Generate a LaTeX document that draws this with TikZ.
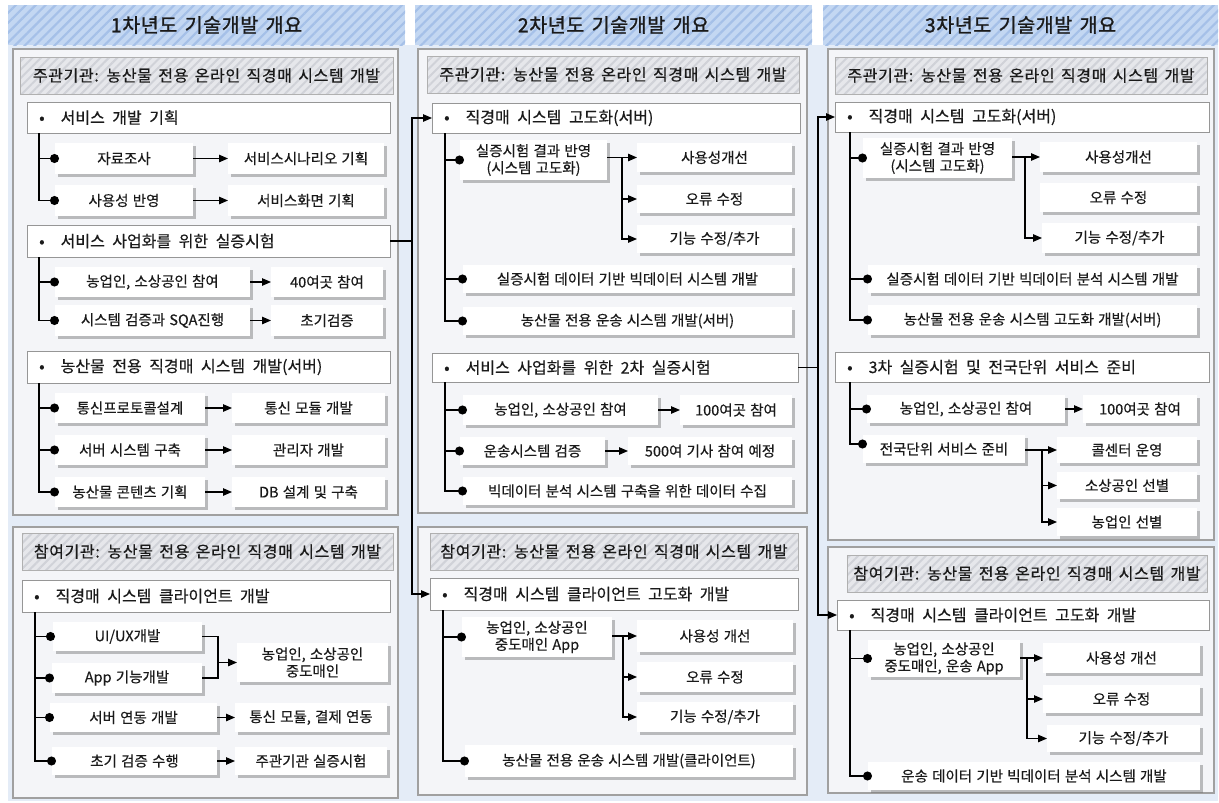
\documentclass[tikz,border=0pt]{standalone}
\usepackage{fontspec}
\setmainfont{Noto Sans CJK KR}[WordSpace=1.3,FakeBold=0.35]
\newfontfamily\titlefont{Noto Sans CJK KR}[WordSpace=1.5,FakeBold=1.2,LetterSpace=3]
\newfontfamily\ghdrfont{Noto Sans CJK KR}[WordSpace=1.5,FakeBold=0.5,LetterSpace=4]
\newfontfamily\bulfont{Noto Sans CJK KR}[WordSpace=2.1,FakeBold=0.4]
\usetikzlibrary{arrows.meta,shadows,patterns.meta,calc}
\definecolor{colblue}{HTML}{E4ECF7}
\definecolor{hdrblue}{HTML}{C3D7F2}
\definecolor{hdrstripe}{HTML}{A5C0E8}
\definecolor{panelfill}{HTML}{F4F5F8}
\definecolor{panelline}{HTML}{A0A0A0}
\definecolor{ghdrfill}{HTML}{E6E7EB}
\definecolor{ghdrstripe}{HTML}{D0D2D8}
\definecolor{ghdrline}{HTML}{B0B0B0}
\definecolor{bline}{HTML}{969696}
\definecolor{txt}{HTML}{1A1A1A}
\tikzset{
  colbg/.style={fill=colblue,draw=none,inner sep=0pt,outer sep=0pt},
  hdr/.style={preaction={fill=hdrblue},pattern={Lines[angle=45,distance=7pt,line width=2.2pt]},pattern color=hdrstripe,inner sep=0pt,outer sep=0pt,text=txt,font=\titlefont\fontsize{19.5}{23}\selectfont},
  panel/.style={fill=panelfill,draw=panelline,line width=1.4pt,inner sep=0pt,outer sep=0pt},
  ghdr/.style={draw=ghdrline,line width=0.9pt,preaction={fill=ghdrfill},pattern={Lines[angle=45,distance=6pt,line width=2pt]},pattern color=ghdrstripe,inner sep=0pt,outer sep=0pt,text=txt,font=\ghdrfont\fontsize{16}{19}\selectfont},
  bulletbox/.style={fill=white,draw=bline,line width=1pt,inner sep=0pt,outer sep=0pt},
  btext/.style={inner sep=0pt,text=txt,font=\bulfont\fontsize{16}{19}\selectfont},
  subbox/.style={fill=white,draw=none,inner sep=0pt,outer sep=0pt,align=center,text=txt,font=\fontsize{14.5}{17}\selectfont,
    drop shadow={shadow xshift=2.5pt,shadow yshift=-2.5pt,fill=black!55,opacity=0.45}},
  ln/.style={line width=1.1pt,draw=black},
  br/.style={line width=1.1pt,draw=black,-{Circle[length=9pt]}},
  arr/.style={line width=1.1pt,draw=black,-{Triangle[length=9pt,width=7.5pt]}},
}
\newcommand\mybox[7]{\node[#1,anchor=north west,minimum width=#5pt-#3pt,minimum height=#6pt-#4pt] (#2) at (#3,#4) {#7};}
\newcommand\bul[6]{\mybox{bulletbox}{#1}{#2}{#3}{#4}{#5}{}
  \node[btext,anchor=west] (#1t) at ([xshift=12pt]#1.west) {•\hspace{16pt}#6};}
\newcommand\sub[6]{\mybox{subbox}{#1}{#2}{#3}{#4}{#5}{#6}}
\begin{document}
\begin{tikzpicture}[x=1pt,y=-1pt]
\useasboundingbox (0,0) rectangle (1219,803);
\fill[white] (0,0) rectangle (1219,803);
% column backgrounds
\mybox{colbg}{bg}{8}{45}{1218}{801}{}
\mybox{hdr}{h1}{8}{5}{405}{45}{1차년도 기술개발 개요}
\mybox{hdr}{h2}{415}{5}{812}{45}{2차년도 기술개발 개요}
\mybox{hdr}{h3}{823}{5}{1218}{45}{3차년도 기술개발 개요}
%================ column 1
\mybox{panel}{p1a}{13}{49}{398}{515}{}
\mybox{ghdr}{g1a}{20}{57}{393}{94}{주관기관: 농산물 전용 온라인 직경매 시스템 개발}
\bul{b11}{27}{102}{390}{133}{서비스 개발 기획}
\sub{s111}{55}{143}{193}{174}{자료조사}
\sub{s112}{228}{143}{384}{174}{서비스시나리오 기획}
\sub{s113}{55}{185}{193}{216}{사용성 반영}
\sub{s114}{228}{185}{384}{216}{서비스화면 기획}
\bul{b12}{27}{225}{390}{257}{서비스 사업화를 위한 실증시험}
\sub{s121}{55}{267}{250}{297}{농업인, 소상공인 참여}
\sub{s122}{271}{267}{383}{297}{40여곳 참여}
\sub{s123}{55}{305}{250}{336}{시스템 검증과 SQA진행}
\sub{s124}{271}{305}{383}{336}{초기검증}
\bul{b13}{27}{351}{390}{383}{농산물 전용 직경매 시스템 개발(서버)}
\sub{s131}{55}{393}{205}{423}{통신프로토콜설계}
\sub{s132}{232}{393}{385}{423}{통신 모듈 개발}
\sub{s133}{55}{435}{205}{465}{서버 시스템 구축}
\sub{s134}{232}{435}{385}{465}{관리자 개발}
\sub{s135}{55}{477}{205}{507}{농산물 콘텐츠 기획}
\sub{s136}{232}{477}{385}{507}{DB 설계 및 구축}
\mybox{panel}{p1b}{13}{527}{398}{798}{}
\mybox{ghdr}{g1b}{22}{533}{393}{570}{참여기관: 농산물 전용 온라인 직경매 시스템 개발}
\bul{b14}{22}{580}{390}{612}{직경매 시스템 클라이언트 개발}
\sub{s141}{53}{622}{202}{651}{UI/UX개발}
\sub{s142}{52}{663}{202}{693}{App 기능개발}
\sub{s143}{237}{643}{388}{682}{농업인, 소상공인\\중도매인}
\sub{s144}{50}{703}{217}{732}{서버 연동 개발}
\sub{s145}{235}{703}{387}{732}{통신 모듈, 결제 연동}
\sub{s146}{52}{747}{217}{775}{초기 검증 수행}
\sub{s147}{235}{747}{387}{775}{주관기관 실증시험}
%================ column 2
\mybox{panel}{p2a}{418}{49}{807}{513}{}
\mybox{ghdr}{g2a}{427}{56}{799}{93}{주관기관: 농산물 전용 온라인 직경매 시스템 개발}
\bul{b21}{432}{103}{800}{133}{직경매 시스템 고도화(서버)}
\sub{s211}{460}{140}{607}{180}{실증시험 결과 반영\\(시스템 고도화)}
\sub{s212}{637}{143}{792}{172}{사용성개선}
\sub{s213}{637}{185}{792}{213}{오류 수정}
\sub{s214}{637}{225}{792}{253}{기능 수정/추가}
\sub{s215}{463}{265}{792}{293}{실증시험 데이터 기반 빅데이터 시스템 개발}
\sub{s216}{463}{307}{792}{335}{농산물 전용 운송 시스템 개발(서버)}
\bul{b22}{432}{353}{798}{382}{서비스 사업화를 위한 2차 실증시험}
\sub{s221}{463}{395}{658}{425}{농업인, 소상공인 참여}
\sub{s222}{680}{395}{792}{425}{100여곳 참여}
\sub{s223}{460}{437}{605}{465}{운송시스템 검증}
\sub{s224}{628}{437}{792}{465}{500여 기사 참여 예정}
\sub{s225}{463}{477}{792}{505}{빅데이터 분석 시스템 구축을 위한 데이터 수집}
\mybox{panel}{p2b}{418}{527}{807}{795}{}
\mybox{ghdr}{g2b}{430}{533}{798}{570}{참여기관: 농산물 전용 온라인 직경매 시스템 개발}
\bul{b23}{430}{578}{798}{610}{직경매 시스템 클라이언트 고도화 개발}
\sub{s231}{462}{617}{612}{657}{농업인, 소상공인\\중도매인 App}
\sub{s232}{637}{620}{793}{652}{사용성 개선}
\sub{s233}{637}{662}{793}{692}{오류 수정}
\sub{s234}{637}{702}{793}{732}{기능 수정/추가}
\sub{s235}{465}{745}{793}{777}{농산물 전용 운송 시스템 개발(클라이언트)}
%================ column 3
\mybox{panel}{p3a}{828}{49}{1214}{540}{}
\mybox{ghdr}{g3a}{835}{57}{1207}{94}{주관기관: 농산물 전용 온라인 직경매 시스템 개발}
\bul{b31}{835}{102}{1209}{132}{직경매 시스템 고도화(서버)}
\sub{s311}{863}{138}{1012}{178}{실증시험 결과 반영\\(시스템 고도화)}
\sub{s312}{1040}{142}{1197}{172}{사용성개선}
\sub{s313}{1040}{183}{1197}{212}{오류 수정}
\sub{s314}{1042}{223}{1197}{253}{기능 수정/추가}
\sub{s315}{868}{265}{1197}{293}{실증시험 데이터 기반 빅데이터 분석 시스템 개발}
\sub{s316}{868}{305}{1197}{335}{농산물 전용 운송 시스템 고도화 개발(서버)}
\bul{b32}{835}{352}{1209}{382}{3차 실증시험 및 전국단위 서비스 준비}
\sub{s321}{867}{395}{1065}{423}{농업인, 소상공인 참여}
\sub{s322}{1083}{395}{1197}{423}{100여곳 참여}
\sub{s323}{863}{435}{1025}{463}{전국단위 서비스 준비}
\sub{s324}{1057}{437}{1197}{463}{콜센터 운영}
\sub{s325}{1057}{472}{1197}{499}{소상공인 선별}
\sub{s326}{1057}{508}{1197}{536}{농업인 선별}
\mybox{panel}{p3b}{828}{547}{1214}{793}{}
\mybox{ghdr}{g3b}{847}{555}{1207}{592}{참여기관: 농산물 전용 온라인 직경매 시스템 개발}
\bul{b33}{837}{600}{1209}{630}{직경매 시스템 클라이언트 고도화 개발}
\sub{s331}{868}{640}{1020}{677}{농업인, 소상공인\\중도매인, 운송 App}
\sub{s332}{1043}{643}{1200}{673}{사용성 개선}
\sub{s333}{1043}{685}{1200}{713}{오류 수정}
\sub{s334}{1047}{725}{1200}{752}{기능 수정/추가}
\sub{s335}{868}{762}{1200}{790}{운송 데이터 기반 빅데이터 분석 시스템 개발}
%================ connectors: trunks and dots
\foreach \s in {s111,s113} \draw[br] ([xshift=12pt]b11.south west) |- ([xshift=4pt]\s.west);
\foreach \s in {s121,s123} \draw[br] ([xshift=12pt]b12.south west) |- ([xshift=4pt]\s.west);
\foreach \s in {s131,s133,s135} \draw[br] ([xshift=12pt]b13.south west) |- ([xshift=4pt]\s.west);
\foreach \s in {s141,s142} \draw[br] ([xshift=13pt]b14.south west) |- ([xshift=2pt]\s.west);
\foreach \s in {s144,s146} \draw[br] ([xshift=13pt]b14.south west) |- ([xshift=4pt]\s.west);
\foreach \s in {s211,s215,s216} \draw[br] ([xshift=13pt]b21.south west) |- ([xshift=4pt]\s.west);
\foreach \s in {s221,s223,s225} \draw[br] ([xshift=13pt]b22.south west) |- ([xshift=4pt]\s.west);
\foreach \s in {s231,s235} \draw[br] ([xshift=13pt]b23.south west) |- ([xshift=4pt]\s.west);
\foreach \s in {s311,s315,s316} \draw[br] ([xshift=15pt]b31.south west) |- ([xshift=4pt]\s.west);
\draw[br] ([xshift=15pt]b32.south west) |- ([xshift=4pt]s321.west);
\draw[br] ([xshift=15pt]b32.south west) |- ([xshift=4pt,yshift=5pt]s323.west);
\foreach \s in {s331,s335} \draw[br] ([xshift=13pt]b33.south west) |- ([xshift=4pt]\s.west);
%================ simple arrows
\draw[arr] (s111) -- (s112);
\draw[arr] (s113) -- (s114);
\draw[arr] (s121) -- (s122);
\draw[arr] (s123) -- (s124);
\draw[arr] (s131) -- (s132);
\draw[arr] (s133) -- (s134);
\draw[arr] (s135) -- (s136);
\draw[arr] (s144) -- (s145);
\draw[arr] (s146) -- (s147);
\draw[arr] (s221) -- (s222);
\draw[arr] (s223) -- (s224);
\draw[arr] (s321) -- (s322);
% merge in column 1
\coordinate (m1) at ([xshift=16pt]s141.east);
\draw[ln] (s141.east) -- (m1) |- (s142.east);
\draw[arr] (m1 |- s143.west) -- (s143.west);
% fan-outs
\coordinate (f21) at ([xshift=15pt]s211.east |- s212.west);
\draw[arr] (s211.east |- s212.west) -- (s212.west);
\draw[arr] (f21) |- (s213.west);
\draw[arr] (f21) |- (s214.west);
\coordinate (f23) at ([xshift=11pt]s231.east |- s232.west);
\draw[arr] (s231.east |- s232.west) -- (s232.west);
\draw[arr] (f23) |- (s233.west);
\draw[arr] (f23) |- (s234.west);
\coordinate (f31) at ([xshift=13pt]s311.east |- s312.west);
\draw[arr] (s311.east |- s312.west) -- (s312.west);
\draw[arr] (f31) |- (s314.west);
\coordinate (f32) at ([xshift=17pt]s323.east |- s324.west);
\draw[arr] (s323.east |- s324.west) -- (s324.west);
\draw[arr] (f32) |- (s325.west);
\draw[arr] (f32) |- (s326.west);
\coordinate (f33) at ([xshift=7pt]s331.east |- s332.west);
\draw[arr] (s331.east |- s332.west) -- (s332.west);
\draw[arr] (f33) |- (s333.west);
\draw[arr] (f33) |- (s334.west);
% cross-column connectors
\coordinate (v1) at ([xshift=22pt]b12.east);
\draw[ln] (b12.east) -- (v1);
\draw[arr] (v1) |- (b21.west);
\draw[arr] (v1) |- (b23.west);
\coordinate (v2) at ([xshift=20pt]b22.east);
\draw[ln] (b22.east) -- (v2);
\draw[arr] (v2) |- (b31.west);
\draw[arr] (v2) |- (b33.west);
\end{tikzpicture}
\end{document}
